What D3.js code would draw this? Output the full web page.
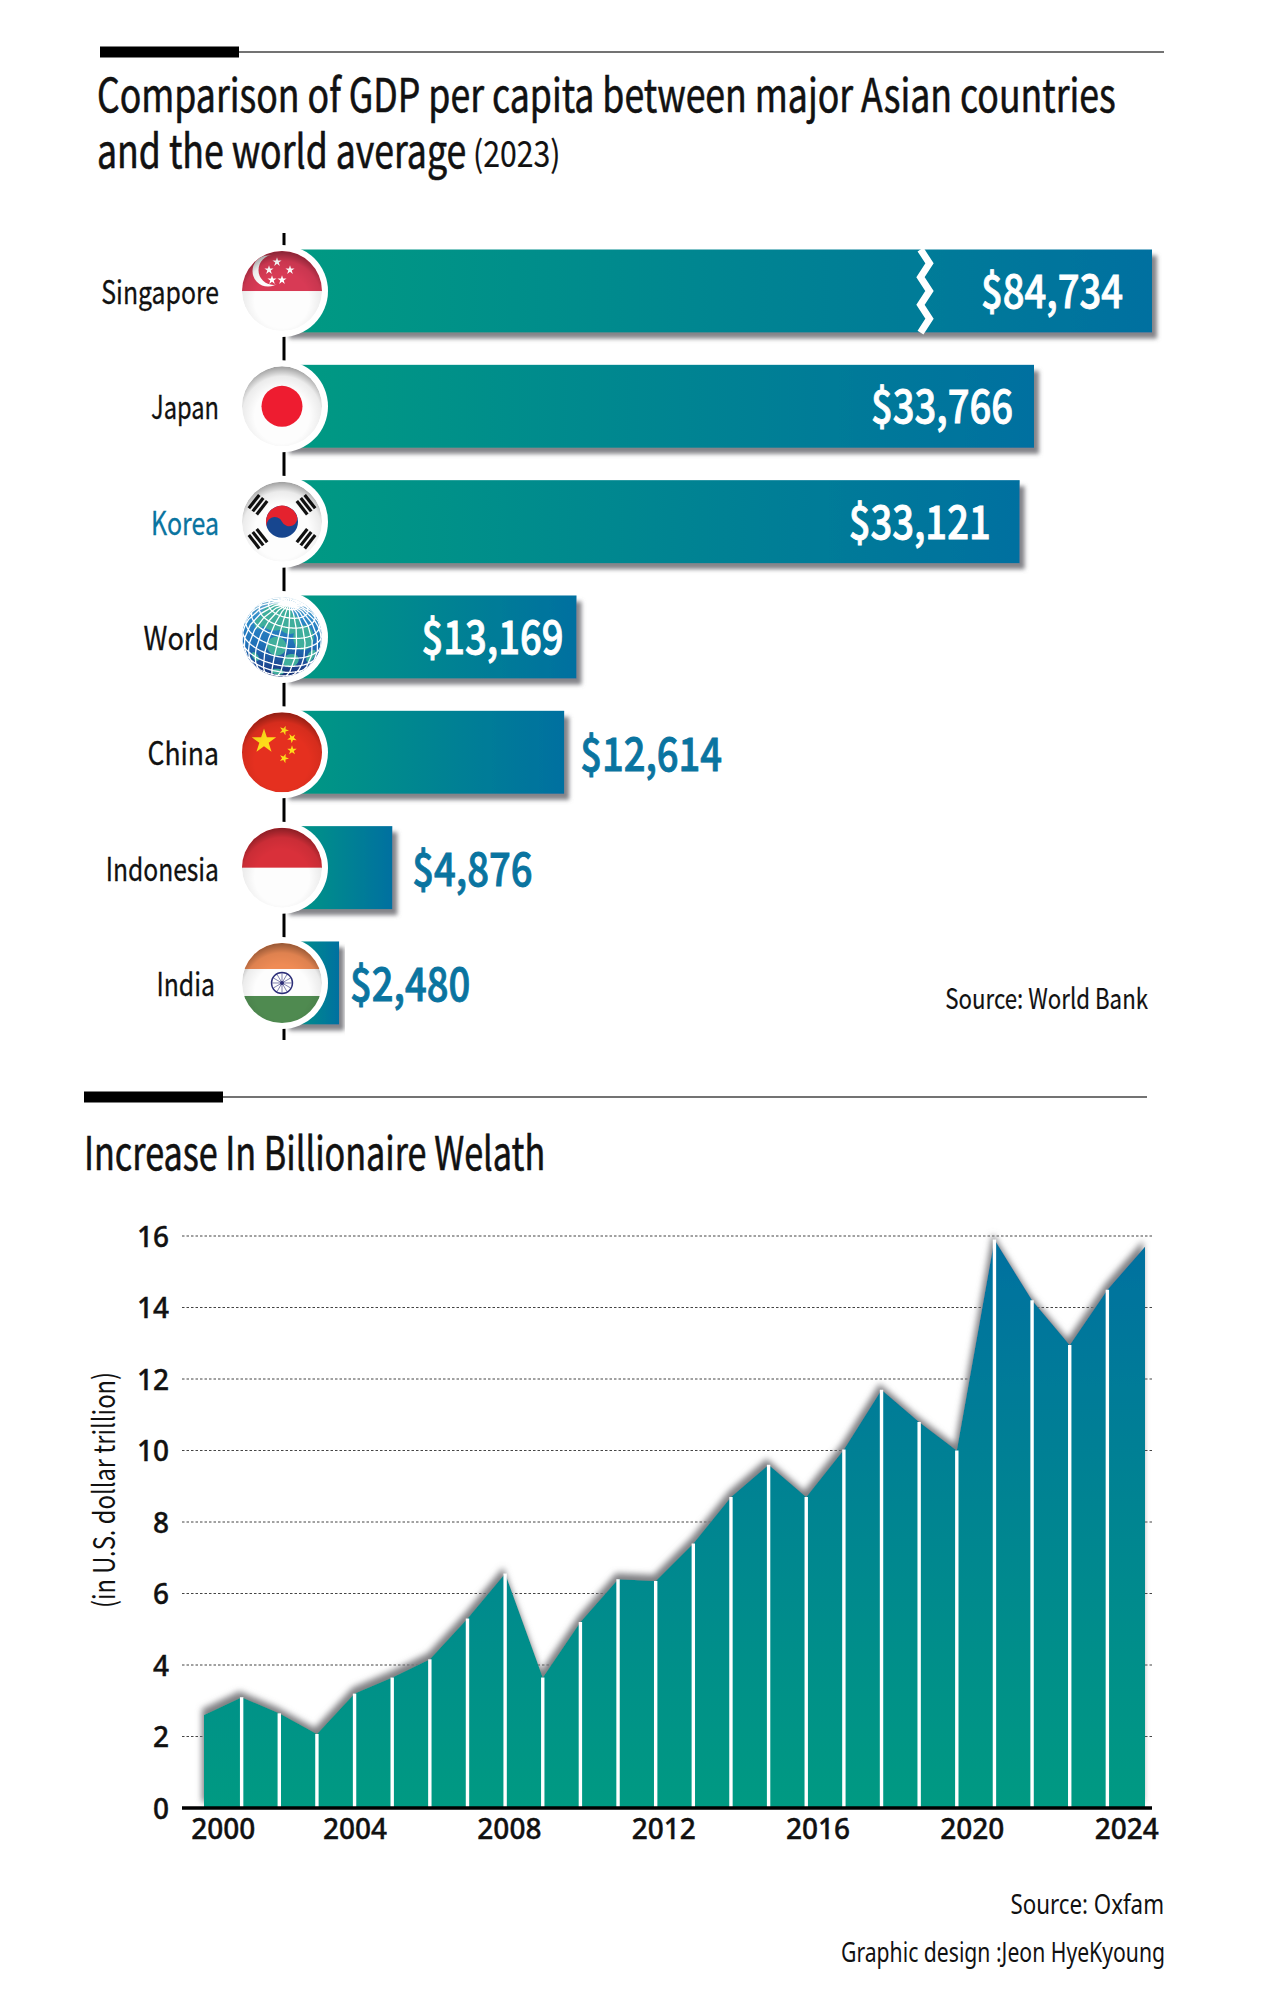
<!DOCTYPE html>
<html>
<head>
<meta charset="utf-8">
<style>
html,body{margin:0;padding:0;background:#fff;}
svg{display:block;}
text{fill:#111;}
</style>
<script src="https://cdn.jsdelivr.net/npm/d3@7/dist/d3.min.js"></script>
</head>
<body>
<svg id="c" width="1280" height="1994" xmlns="http://www.w3.org/2000/svg"></svg>
<script>
// ---- data ----
const countries = ["Singapore","Japan","Korea","World","China","Indonesia","India"];
const gdpValues = [84734,33766,33121,13169,12614,4876,2480];
const wealthValues = [2.6,3.1,2.65,2.07,3.2,3.65,4.16,5.3,6.56,3.65,5.2,6.4,6.35,7.4,8.7,9.6,8.7,10.03,11.7,10.8,10,15.9,14.2,12.95,14.5,15.7];
const yearLabels = ["2000","2004","2008","2012","2016","2020","2024"];
const yearLabelSlots = [0.5,4,8.1,12.2,16.3,20.4,24.5];
const yTicks = [0,2,4,6,8,10,12,14,16];

const FONT_H = '"Noto Sans CJK KR","Noto Sans",sans-serif';
const FONT_T = '"Noto Sans",sans-serif';
const svg = d3.select("#c");
const defs = svg.append("defs");

function lg(id,a,b,attrs){
  const g=defs.append("linearGradient").attr("id",id);
  Object.entries(attrs).forEach(([k,v])=>g.attr(k,v));
  g.append("stop").attr("offset","0%").attr("stop-color",a);
  g.append("stop").attr("offset","100%").attr("stop-color",b);
}
lg("barGrad","#009a82","#0070a0",{x1:"0%",x2:"100%",y1:"0%",y2:"0%"});
const shad=defs.append("filter").attr("id","barShadow").attr("x","-5%").attr("y","-10%").attr("width","115%").attr("height","130%");
shad.append("feDropShadow").attr("dx",5).attr("dy",6).attr("stdDeviation",2).attr("flood-color","#6e6e74").attr("flood-opacity",0.85);
const shad2=defs.append("filter").attr("id","areaShadow").attr("x","-5%").attr("y","-5%").attr("width","110%").attr("height","110%");
shad2.append("feDropShadow").attr("dx",-2).attr("dy",-6).attr("stdDeviation",3).attr("flood-color","#77777c").attr("flood-opacity",0.95);
const sh=defs.append("radialGradient").attr("id","flagShade").attr("cx","50%").attr("cy","62%").attr("r","62%");
[[0,"#000",0],[0.55,"#000",0],[0.8,"#000",0.07],[1,"#000",0.38]].forEach(([o,c,a])=>sh.append("stop").attr("offset",o).attr("stop-color",c).attr("stop-opacity",a));

function squeeze(sel,f){
  sel.each(function(){
    const px=+(this.getAttribute("x")||0), base=this.getAttribute("transform")||"";
    this.setAttribute("transform",`${base} translate(${px},0) scale(${f},1) translate(${-px},0)`);
  });
  return sel;
}
function txt(s,x,y,size,opts={}){
  const t=svg.append("text").attr("x",x).attr("y",y).attr("font-size",size)
    .attr("font-family",opts.font||FONT_H).attr("font-weight",opts.weight||400)
    .attr("text-anchor",opts.anchor||"start").text(s);
  if(opts.stroke){t.style("stroke","#111").style("stroke-width",opts.stroke);}
  if(opts.f) squeeze(t,opts.f);
  return t;
}
function header(x0,xBlackEnd,xEnd,y){
  svg.append("rect").attr("x",x0).attr("y",y-5.5).attr("width",xBlackEnd-x0).attr("height",11).attr("fill","#000");
  svg.append("line").attr("x1",xBlackEnd).attr("x2",xEnd).attr("y1",y).attr("y2",y).attr("stroke","#444").attr("stroke-width",1.5);
}

// ---- top section ----
header(100,239,1164,52);
txt("Comparison of GDP per capita between major Asian countries",97,112,46,{f:.775,stroke:.6});
txt("and the world average",97,168,46,{f:.775,stroke:.6});
txt("(2023)",473,167,36,{f:.84,stroke:.2});

const AX=284, CX=282;
const band=d3.scaleBand().domain(countries).range([249.5,1024.5]).paddingInner(0.28).paddingOuter(0);
const xBar=d3.scaleLinear().domain([0,33766,84734]).range([AX,1034,1152]);

svg.append("line").attr("x1",AX).attr("x2",AX).attr("y1",233).attr("y2",1040).attr("stroke","#000").attr("stroke-width",3);

const rows=countries.map((c,i)=>({c,v:gdpValues[i]}));
const rowG=svg.append("g").selectAll("g").data(rows).join("g");
rowG.append("rect").attr("x",AX).attr("y",d=>band(d.c)).attr("width",d=>xBar(d.v)-AX).attr("height",band.bandwidth())
  .attr("fill","url(#barGrad)").attr("filter","url(#barShadow)");

// axis break on the clipped bar
const breakX=xBar(gdpValues[0])-226, bt=band(countries[0]), bb=bt+band.bandwidth();
svg.append("path").attr("fill","none").attr("stroke","#fff").attr("stroke-width",7)
  .attr("d",d3.line()(d3.range(7).map(i=>[breakX-1+(i%2?4.5:-4.5),bt+(bb-bt)*i/6])));

// country names
const nameFit={Singapore:.775,Japan:.74,Korea:.78,World:.85,China:.83,Indonesia:.77,India:.775};
rows.forEach(d=>{
  const y=band(d.c)+band.bandwidth()/2;
  const rightX=d.c==="India"?215:219;
  const t=txt(d.c,rightX,y+13,32,{anchor:"end",f:nameFit[d.c],stroke:.3});
  if(d.c==="Korea"){t.style("fill","#0a74a0").style("stroke","#0a74a0");}
});

// value labels
const insideOffset={Singapore:29,Japan:21,Korea:29,World:13};
const outsideOffset={China:16,Indonesia:20,India:11};
rows.forEach(d=>{
  const y=band(d.c)+band.bandwidth()/2+17;
  const label="$"+d3.format(",")(d.v);
  const inside=d.c in insideOffset;
  const x=inside?xBar(d.v)-insideOffset[d.c]:xBar(d.v)+outsideOffset[d.c];
  const t=txt(label,x,inside?y:y+1.5,46,{anchor:inside?"end":"start",f:.83,font:FONT_H,weight:500});
  t.style("fill",inside?"#fff":"#0a74a0").style("stroke",inside?"#fff":"#0a74a0").style("stroke-width",.9);
});

// flags
const R=40;
function star(g,x,y,size,fill,rot=0){
  g.append("path").attr("d",d3.symbol(d3.symbolStar,size)()).attr("fill",fill).attr("transform",`translate(${x},${y}) rotate(${rot})`);
}
const flags={
  Singapore(g){
    g.append("rect").attr("x",-R).attr("y",-R).attr("width",2*R).attr("height",2*R).attr("fill","#fdfdfd");
    g.append("rect").attr("x",-R).attr("y",-R).attr("width",2*R).attr("height",R).attr("fill","#d83a55");
    g.append("circle").attr("cx",-14).attr("cy",-20).attr("r",15.5).attr("fill","#fdfdfd");
    g.append("circle").attr("cx",-8.5).attr("cy",-21).attr("r",15).attr("fill","#d83a55");
    [[-5,-29],[-13,-21],[8,-21],[-10,-11],[0,-11]].forEach(([x,y])=>star(g,x,y,26,"#fff"));
  },
  Japan(g){
    g.append("rect").attr("x",-R).attr("y",-R).attr("width",2*R).attr("height",2*R).attr("fill","#fdfdfd");
    g.append("circle").attr("r",20.5).attr("fill","#ee1c30");
  },
  Korea(g){
    g.append("rect").attr("x",-R).attr("y",-R).attr("width",2*R).attr("height",2*R).attr("fill","#fdfdfd");
    const r=16;
    g.append("circle").attr("r",r).attr("fill","#17468f");
    g.append("path").attr("fill","#e4222e").attr("transform","rotate(-25)")
      .attr("d",`M${-r},0 A${r},${r} 0 0 1 ${r},0 A${r/2},${r/2} 0 0 1 0,0 A${r/2},${r/2} 0 0 0 ${-r},0Z`);
    [[-24,-17,-52],[24,-17,52],[-24,17,52],[24,17,-52]].forEach(([x,y,a])=>{
      const t=g.append("g").attr("transform",`translate(${x},${y}) rotate(${a})`);
      [-5,0,5].forEach(o=>t.append("rect").attr("x",-8.5).attr("y",o-1.6).attr("width",17).attr("height",3.2).attr("fill","#111"));
    });
  },
  World(g){
    const grad=defs.append("linearGradient").attr("id","sea").attr("x1","0%").attr("x2","0%").attr("y1","0%").attr("y2","100%");
    [[0,"#7db3cf"],[.25,"#2f8cc9"],[.6,"#1f6fb7"],[.85,"#1d4a95"],[1,"#1a2f70"]].forEach(([o,c])=>grad.append("stop").attr("offset",o).attr("stop-color",c));
    const proj=d3.geoOrthographic().scale(R).translate([0,0]).rotate([-20,-30,-12]).clipAngle(90);
    const path=d3.geoPath(proj);
    g.append("path").datum({type:"Sphere"}).attr("d",path).attr("fill","url(#sea)");
    const land=[[[-10,58],24],[[30,52],16],[[60,30],18],[[15,15],14],[[40,-5],12],[[-30,35],9],[[75,-2],10],[[25,-32],9],[[-15,-15],7]];
    land.forEach(([c,r])=>g.append("path").datum(d3.geoCircle().center(c).radius(r)()).attr("d",path).attr("fill","#3fae9c"));
    g.append("path").datum(d3.geoGraticule().step([15,15])()).attr("d",path).attr("fill","none").attr("stroke","#fff").attr("stroke-width",1.3);
  },
  China(g){
    g.append("rect").attr("x",-R).attr("y",-R).attr("width",2*R).attr("height",2*R).attr("fill","#e5301f");
    star(g,-18,-11,185,"#fddc1a");
    [[2,-22,20],[10,-14,40],[10,-2,0],[2,6,20]].forEach(([x,y,a])=>star(g,x,y,28,"#fddc1a",a));
  },
  Indonesia(g){
    g.append("rect").attr("x",-R).attr("y",-R).attr("width",2*R).attr("height",2*R).attr("fill","#fdfdfd");
    g.append("rect").attr("x",-R).attr("y",-R).attr("width",2*R).attr("height",R).attr("fill","#d9303a");
  },
  India(g){
    g.append("rect").attr("x",-R).attr("y",-R).attr("width",2*R).attr("height",2*R).attr("fill","#fdfdfd");
    g.append("rect").attr("x",-R).attr("y",-R).attr("width",2*R).attr("height",26).attr("fill","#ef8b55");
    g.append("rect").attr("x",-R).attr("y",13).attr("width",2*R).attr("height",27).attr("fill","#4f8a50");
    g.append("circle").attr("r",10.5).attr("fill","none").attr("stroke","#2c2e78").attr("stroke-width",1.4);
    d3.range(12).forEach(i=>{
      const a=i*Math.PI/6;
      g.append("line").attr("x2",10*Math.cos(a)).attr("y2",10*Math.sin(a)).attr("stroke","#2c2e78").attr("stroke-width",.6);
    });
    g.append("circle").attr("r",2).attr("fill","#2c2e78");
  }
};
rows.forEach((d,i)=>{
  const cy=band(d.c)+band.bandwidth()/2;
  const g=svg.append("g").attr("transform",`translate(${CX},${cy})`);
  g.append("circle").attr("r",46).attr("fill","#fff");
  defs.append("clipPath").attr("id","clip"+i).append("circle").attr("r",R);
  const inner=g.append("g").attr("clip-path",`url(#clip${i})`);
  flags[d.c](inner);
  if(d.c!=="World") inner.append("circle").attr("r",R).attr("fill","url(#flagShade)");
});

txt("Source: World Bank",1148,1009,28,{anchor:"end",f:.795,stroke:.2});

// ---- bottom section ----
header(84,223,1147,1097);
txt("Increase In Billionaire Welath",84,1170,46,{f:.743,stroke:.6});

const x=d3.scaleLinear().domain([0,wealthValues.length-1]).range([204,1145]);
const y=d3.scaleLinear().domain([0,16]).range([1808,1236]);

defs.append("linearGradient").attr("id","areaGrad").attr("gradientUnits","userSpaceOnUse")
  .attr("x1",0).attr("x2",0).attr("y1",y(0)).attr("y2",y(16))
  .selectAll("stop").data([["0%","#009a82"],["100%","#0070a0"]]).join("stop")
  .attr("offset",d=>d[0]).attr("stop-color",d=>d[1]);

// grid + y axis
const gridG=svg.append("g");
gridG.selectAll("line").data(yTicks.filter(d=>d>0)).join("line")
  .attr("x1",182).attr("x2",1152).attr("y1",d=>y(d)).attr("y2",d=>y(d))
  .attr("stroke","#444").attr("stroke-width",1).attr("stroke-dasharray","2.5 2");

const yAxis=svg.append("g").attr("transform","translate(169,0)")
  .call(d3.axisLeft(y).tickValues(yTicks).tickSize(0).tickPadding(0));
yAxis.select(".domain").remove();
yAxis.selectAll("text").attr("font-family",FONT_T).attr("font-size",28).attr("font-weight",500).attr("dy",".36em").style("stroke","#111").style("stroke-width",.4);

const area=d3.area().x((d,i)=>x(i)).y0(y(0)).y1(d=>y(d));
svg.append("path").datum(wealthValues).attr("d",area).attr("fill","url(#areaGrad)").attr("filter","url(#areaShadow)");

// white year separators
svg.append("g").selectAll("line").data(wealthValues.slice(1,-1)).join("line")
  .attr("x1",(d,i)=>x(i+1)).attr("x2",(d,i)=>x(i+1))
  .attr("y1",d=>y(d)).attr("y2",y(0)).attr("stroke","#fff").attr("stroke-width",3.4);

// x axis
const xAxis=svg.append("g").attr("transform",`translate(0,${y(0)})`)
  .call(d3.axisBottom(x).tickValues(yearLabelSlots).tickFormat((d,i)=>yearLabels[i]).tickSize(0).tickPadding(9));
xAxis.select(".domain").remove();
xAxis.selectAll("text").attr("font-family",FONT_T).attr("font-size",28).attr("font-weight",500).attr("dy","0.8em").style("stroke","#111").style("stroke-width",.4);
svg.append("line").attr("x1",182).attr("x2",1152).attr("y1",y(0)).attr("y2",y(0)).attr("stroke","#000").attr("stroke-width",3.5);

svg.append("text").attr("transform","translate(115,1490) rotate(-90)")
  .attr("text-anchor","middle").attr("font-family",FONT_H).attr("font-size",30).text("(in U.S. dollar trillion)").call(squeeze,.793);

txt("Source: Oxfam",1164,1914,28,{anchor:"end",f:.797,font:FONT_T});
txt("Graphic design :Jeon HyeKyoung",1165,1962,28,{anchor:"end",f:.756,font:FONT_T});
</script>
</body>
</html>
